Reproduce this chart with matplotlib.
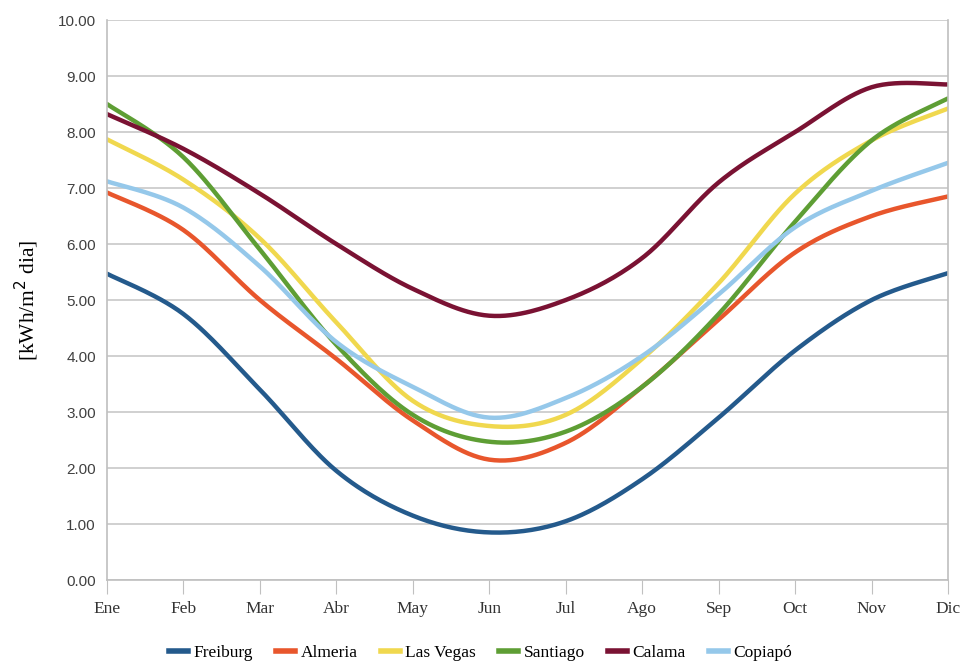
import numpy as np
import matplotlib.pyplot as plt
from matplotlib.lines import Line2D

months = ['Ene', 'Feb', 'Mar', 'Abr', 'May', 'Jun', 'Jul', 'Ago', 'Sep', 'Oct', 'Nov', 'Dic']

freiburg = [5.47, 4.75, 3.40, 1.95, 1.15, 0.85, 1.05, 1.80, 2.90, 4.10, 5.00, 5.48]
almeria = [6.92, 6.25, 5.00, 3.95, 2.85, 2.15, 2.45, 3.45, 4.65, 5.85, 6.50, 6.85]
las_vegas = [7.87, 7.15, 6.10, 4.60, 3.20, 2.75, 2.95, 3.95, 5.30, 6.90, 7.85, 8.42]
santiago = [8.50, 7.55, 5.90, 4.20, 2.95, 2.47, 2.65, 3.45, 4.75, 6.40, 7.85, 8.60]
calama = [8.32, 7.70, 6.90, 6.00, 5.20, 4.72, 5.00, 5.75, 7.10, 8.00, 8.80, 8.85]
copiapo = [7.12, 6.65, 5.60, 4.25, 3.45, 2.90, 3.25, 4.00, 5.10, 6.30, 6.95, 7.45]

series = [
    ('Freiburg', freiburg, '#245A8C'),
    ('Almeria', almeria, '#E8562C'),
    ('Las Vegas', las_vegas, '#F0D84E'),
    ('Santiago', santiago, '#5E9E34'),
    ('Calama', calama, '#7A1233'),
    ('Copiapó', copiapo, '#95C8EA'),
]


def smooth(y, steps=30):
    # Catmull-Rom style bezier smoothing, like spreadsheet "smoothed lines"
    y = np.asarray(y, float)
    x = np.arange(len(y), dtype=float)
    xs, ys = [], []
    for i in range(len(y) - 1):
        p0 = np.array([x[max(i - 1, 0)], y[max(i - 1, 0)]])
        p1 = np.array([x[i], y[i]])
        p2 = np.array([x[i + 1], y[i + 1]])
        p3 = np.array([x[min(i + 2, len(y) - 1)], y[min(i + 2, len(y) - 1)]])
        c1 = p1 + (p2 - p0) / 6
        c2 = p2 - (p3 - p1) / 6
        t = np.linspace(0, 1, steps)[:, None]
        pts = (1 - t) ** 3 * p1 + 3 * (1 - t) ** 2 * t * c1 + 3 * (1 - t) * t ** 2 * c2 + t ** 3 * p2
        xs.extend(pts[:, 0])
        ys.extend(pts[:, 1])
    return xs, ys


fig = plt.figure(figsize=(9.61, 6.61), dpi=100)
ax = fig.add_axes([0.1113, 0.1225, 0.8752, 0.8472])

for name, vals, col in series:
    sx, sy = smooth(vals)
    ax.plot(sx, sy, color=col, linewidth=3.2, solid_capstyle='round')

ax.set_xlim(0, 11)
ax.set_ylim(0, 10)
ax.set_yticks(np.arange(0, 10.01, 1))
ax.set_yticklabels(['%.2f' % v for v in np.arange(0, 10.01, 1)], fontsize=11,
                   family='Liberation Sans', color='#404040')
ax.set_xticks(range(12))
ax.set_xticklabels(months, fontsize=12.5, family='Liberation Serif', color='#333333')
ax.tick_params(axis='y', length=0, pad=8)
ax.tick_params(axis='x', length=10, color='#c0c0c0', pad=5, direction='out')
ax.grid(axis='y', color='#c8c8c8', linewidth=1.2)
ax.set_axisbelow(True)
ax.spines['top'].set_visible(False)
for s in ['left', 'right', 'bottom']:
    ax.spines[s].set_color('#bfbfbf')
    ax.spines[s].set_linewidth(1.2)

ax.set_ylabel('[kWh/m$^{2}$ dia]', fontsize=15.5, family='Liberation Serif', labelpad=12)

handles = [Line2D([0], [0], color=c, linewidth=4) for _, _, c in series]
fig.legend(handles, [n for n, _, _ in series], loc='lower center', ncol=6,
           bbox_to_anchor=(0.5, -0.024), frameon=False, handlelength=1.1,
           handletextpad=0.3, columnspacing=1.35,
           prop={'family': 'Liberation Serif', 'size': 12.5})

fig.savefig('out.png', dpi=100)
